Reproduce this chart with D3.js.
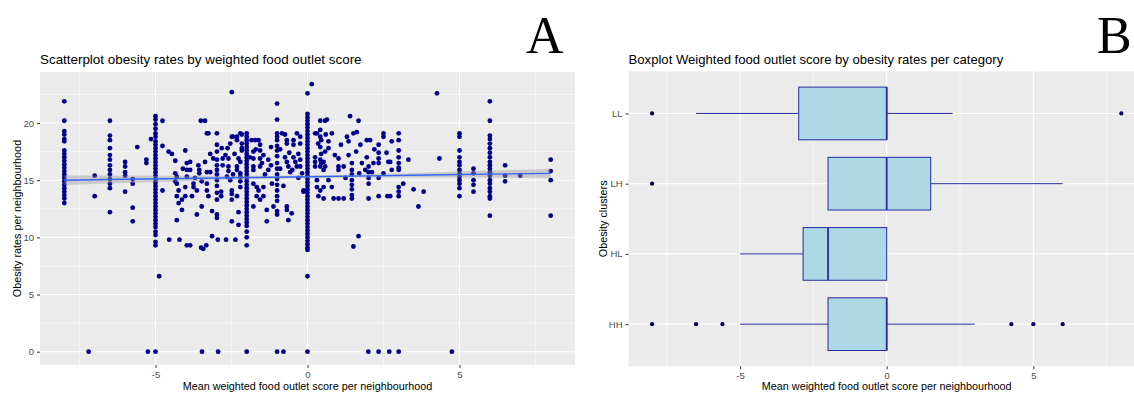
<!DOCTYPE html>
<html>
<head>
<meta charset="utf-8">
<script src="https://cdn.jsdelivr.net/npm/d3@7"></script>
<style>
  body { margin: 0; background: #fff; }
  svg { display: block; font-family: "Liberation Sans", Arial, sans-serif; }
</style>
</head>
<body>
<svg id="chart" width="1134" height="395"></svg>
<script>
// panel A: [weighted food outlet score, obesity rate]
const scatterPoints = [
  [-8,21.9],[-8,20.2],[-8,19.3],[-8,19.0],[-8,18.6],[-8,18.4],[-8,17.6],[-8,17.3],[-8,17.0],[-8,16.7],[-8,16.4],
  [-8,16.1],[-8,15.8],[-8,15.5],[-8,15.2],[-8,14.9],[-8,14.6],[-8,14.3],[-8,14.0],[-8,13.7],[-8,13.4],[-8,13.0],
  [-7.2,0],[-7,15.4],[-7,13.6],
  [-6.5,20.2],[-6.5,18.9],[-6.5,18.5],[-6.5,17.8],[-6.5,17.2],[-6.5,16.8],[-6.5,16.3],[-6.5,15.9],[-6.5,15.5],
  [-6.5,15.1],[-6.5,14.7],[-6.5,14.3],[-6.5,12.2],
  [-6,16.6],[-6,16.2],[-6,15.7],[-6,15.4],[-6,14.0],
  [-5.75,15.1],[-5.75,14.7],[-5.75,12.6],[-5.75,11.4],[-5.6,17.9],[-5.3,16.8],[-5.3,16.5],[-5.25,0],[-5.15,18.6],
  [-5,20.6],[-5,20.3],[-5,19.9],[-5,19.5],[-5,19.1],[-5,18.8],[-5,18.4],[-5,18.1],[-5,17.8],[-5,17.5],[-5,17.2],
  [-5,16.9],[-5,16.6],[-5,16.3],[-5,16.0],[-5,15.7],[-5,15.4],[-5,15.1],[-5,14.8],[-5,14.5],[-5,14.2],[-5,13.9],
  [-5,13.6],[-5,13.3],[-5,13.0],[-5,12.7],[-5,12.4],[-5,12.1],[-5,11.8],[-5,11.5],[-5,11.2],[-5,10.9],[-5,10.5],
  [-5,10.2],[-5,9.6],[-5,9.3],[-5,0],[-4.88,6.6],
  [-4.77,20.2],[-4.77,18.0],[-4.77,14.1],
  [-4.57,17.5],[-4.46,17.3],[-4.35,16.7],[-4.35,15.6],[-4.3,15.3],[-4.35,14.9],[-4.3,14.7],[-4.24,14.1],
  [-4.3,13.6],[-4.24,13.0],[-4.3,11.5],[-4.13,13.3],[-4.13,12.4],[-4.02,17.6],[-3.97,16.5],[-3.97,15.9],
  [-3.97,15.3],[-4.02,14.4],[-4.02,13.6],[-3.86,16.6],[-3.86,15.9],[-3.75,14.7],[-3.75,14.4],[-3.8,13.6],
  [-3.51,20.2],[-3.37,20.2],[-3.59,16.3],[-3.56,15.9],[-3.56,15.6],[-3.48,14.9],[-3.64,14.1],[-3.48,12.7],
  [-3.64,12.0],[-3.31,19.1],[-3.26,19.1],[-3.37,16.6],[-3.31,15.7],[-3.2,15.7],[-3.31,14.7],[-3.31,14.1],
  [-3.26,13.6],[-3.14,12.3],[-3.2,17.3],[-3.1,16.9],[-3.7,15.2],[-4.1,16.0],
  [-2.98,19.1],[-2.98,18.1],[-2.98,17.5],[-2.98,16.8],[-2.98,16.3],[-2.98,15.9],[-2.98,15.5],[-2.98,15.0],
  [-2.98,14.5],[-2.98,13.9],[-2.98,13.3],[-2.98,12.0],[-2.98,11.7],
  [-2.82,17.8],[-2.79,16.9],[-2.79,16.3],[-2.84,14.0],[-2.84,13.6],[-2.63,17.8],[-2.6,16.9],[-2.6,16.2],
  [-2.6,15.8],[-2.54,18.2],[-2.49,18.8],[-2.45,18.8],[-2.49,22.7],[-2.54,15.0],[-2.49,14.1],[-2.49,13.8],
  [-2.49,13.3],[-2.49,11.4],[-2.32,18.8],[-2.32,18.5],[-2.27,16.9],[-2.32,16.2],[-2.32,15.9],[-2.32,13.6],
  [-2.27,12.2],[-2.27,11.1],[-2.21,19.1],[-2.16,19.0],[-2.16,18.2],[-2.16,17.8],[-2.16,17.6],[-2.21,16.6],
  [-2.21,15.6],[-2.21,15.3],[-2.21,14.9],[-2.21,14.4],[-2.7,17.2],[-2.65,15.3],[-2.4,17.3],[-2.45,15.5],
  [-2,19.1],[-2,18.8],[-2,18.5],[-2,18.2],[-2,17.9],[-2,17.6],[-2,17.3],[-2,17.0],[-2,16.7],[-2,16.4],[-2,16.1],
  [-2,15.8],[-2,15.5],[-2,15.2],[-2,14.9],[-2,14.6],[-2,14.3],[-2,14.0],[-2,13.7],[-2,13.4],[-2,13.1],[-2,12.8],
  [-2,12.5],[-2,12.2],[-2,11.9],[-2,11.6],[-2,11.3],[-2,11.0],[-2,10.5],[-2,10.0],[-2,9.3],[-2,0],
  [-1.84,18.5],[-1.72,18.5],[-1.78,17.5],[-1.78,16.9],[-1.78,16.2],[-1.78,15.9],[-1.78,14.7],[-1.67,14.4],
  [-1.61,14.1],[-1.67,13.6],[-1.56,13.3],[-1.45,13.6],[-1.78,12.7],[-1.61,18.5],[-1.56,18.1],[-1.56,17.6],
  [-1.56,16.9],[-1.56,16.2],[-1.45,17.2],[-1.45,14.4],[-1.34,12.4],[-1.34,11.4],[-1.29,16.8],[-1.29,15.9],
  [-1.17,14.7],[-1.12,12.7],[-1.9,17.0],[-1.7,17.7],[-1.5,16.5],[-1.4,15.5],[-1.2,17.9],[-1.2,16.3],
  [-1,21.7],[-1,20.3],[-1,19.1],[-1,18.8],[-1,18.5],[-1,18.0],[-1,17.6],[-1,17.1],[-1,16.5],[-1,16.0],[-1,15.5],
  [-1,15.1],[-1,14.6],[-1,14.1],[-1,13.6],[-1,13.2],[-1,12.3],[-1,12.0],[-1,0],
  [-0.84,19.1],[-0.74,19.0],[-0.68,18.5],[-0.68,18.2],[-0.74,17.0],[-0.68,16.6],[-0.63,16.2],[-0.57,15.7],
  [-0.79,14.5],[-0.68,12.7],[-0.68,12.4],[-0.63,11.5],[-0.79,0],[-0.46,18.5],[-0.46,18.1],[-0.46,17.0],
  [-0.4,16.6],[-0.35,16.2],[-0.52,12.1],[-0.35,19.1],[-0.24,18.8],[-0.24,18.2],[-0.3,17.3],[-0.24,16.8],
  [-0.24,16.2],[-0.18,15.6],[-0.13,14.1],[-0.13,14.0],[-0.9,17.7],[-0.9,16.0],[-0.6,17.4],[-0.5,15.9],[-0.3,15.2],
  [-4.55,9.8],[-4.21,9.8],[-3.97,9.3],[-3.86,9.3],[-3.5,9.1],[-3.43,9.0],[-3.33,9.3],[-3.14,10.1],[-2.95,9.8],
  [-2.68,9.8],[-2.37,9.8],[-3.47,0],[-2.94,0],
  [0.14,23.4],[0,22.6],[0,20.8],[0,20.5],[0,20.2],[0,19.9],[0,19.6],[0,19.3],[0,19.0],[0,18.7],[0,18.4],[0,18.1],
  [0,17.8],[0,17.5],[0,17.2],[0,16.9],[0,16.6],[0,16.3],[0,16.0],[0,15.7],[0,15.4],[0,15.1],[0,14.8],[0,14.5],
  [0,14.2],[0,13.9],[0,13.6],[0,13.3],[0,13.0],[0,12.7],[0,12.4],[0,12.1],[0,11.8],[0,11.5],[0,11.2],[0,10.9],
  [0,10.6],[0,10.3],[0,10.0],[0,9.7],[0,9.4],[0,9.1],[0,8.9],[0,6.6],[0,0],
  [0.25,19.1],[0.31,19.1],[0.42,20.2],[0.58,20.2],[0.42,19.4],[0.42,18.8],[0.45,18.5],[0.42,17.9],[0.45,17.3],
  [0.42,16.8],[0.45,16.5],[0.42,16.2],[0.25,17.0],[0.25,16.6],[0.25,16.2],[0.31,15.0],[0.31,14.4],[0.42,14.1],
  [0.53,14.4],[0.36,13.6],[0.53,13.4],[0.53,16.6],[0.58,16.2],[0.53,15.9],[0.58,17.5],[0.64,20.3],[0.69,18.4],
  [0.69,17.8],[0.69,15.0],[0.8,19.1],[0.8,14.4],[0.86,13.4],[1.02,16.9],[1.02,16.2],[1.02,15.9],[1.02,13.4],
  [1.19,13.4],[1.19,16.2],[1.3,18.8],[1.35,18.4],[1.35,17.2],[1.4,20.6],
  [0.35,18.2],[0.6,19.0],[0.9,17.2],[1.1,18.1],[1.25,15.2],[1.6,17.5],[1.7,15.6],
  [1.46,16.5],[1.46,15.9],[1.46,15.5],[1.46,15.0],[1.46,14.6],[1.46,14.2],[1.46,13.7],[1.46,13.4],
  [1.51,19.1],[1.51,9.2],[1.62,19.2],[1.68,20.2],[1.68,10.1],[1.74,18.1],[1.79,16.5],[1.9,15.9],[1.95,18.5],
  [2.06,18.5],[1.95,17.0],[2.01,16.2],[2.01,15.7],[2.01,15.2],[2.01,14.7],[2.01,13.4],[2.12,15.7],[2.17,16.5],
  [2.34,13.6],[2.34,18.1],[2.34,17.4],[2.34,16.9],[2.34,16.5],[2.34,15.2],[2.5,19.1],[2.5,18.8],[2.66,16.6],
  [2.72,16.6],[2.63,13.6],[2.72,13.6],[2.77,18.4],[2.77,15.9],[2.2,17.7],[2.5,15.6],[2.6,17.4],
  [3,19.1],[3,18.5],[3,17.6],[3,17.0],[3,16.5],[3,16.1],[3,15.9],[3,14.4],[3,14.0],[3,13.6],
  [3.15,14.7],[3.32,16.8],[3.49,14.2],[3.65,12.7],[3.82,14.0],[4.26,22.6],[4.34,16.9],
  [2,0],[2.34,0],[2.69,0],[3,0],[4.75,0],
  [5,19.1],[5,18.8],[5,17.6],[5,17.0],[5,16.6],[5,16.3],[5,15.9],[5,15.6],[5,15.3],[5,15.0],[5,14.7],[5,14.3],[5,13.6],
  [5.46,16.0],[5.46,15.6],[5.46,15.0],[5.46,14.6],[5.46,14.0],
  [6,21.9],[6,20.2],[6,18.9],[6,18.6],[6,18.2],[6,17.8],[6,17.4],[6,17.0],[6,16.6],[6,16.3],[6,16.0],[6,15.7],
  [6,15.4],[6,15.0],[6,14.7],[6,14.3],[6,14.0],[6,13.6],[6,13.4],[6,11.9],
  [6.5,16.3],[6.5,15.4],[6.5,14.9],[7,15.4],
  [8,16.8],[8,15.8],[8,15.0],[8,11.9]
];

// linear smoother with confidence band
const smoothX = [-8, -6, -4, -2, 0, 2, 4, 6, 8];
const smoothFit = [15.0, 15.08, 15.15, 15.23, 15.3, 15.38, 15.45, 15.53, 15.6];
const smoothLow = [14.58, 14.75, 14.91, 15.07, 15.18, 15.24, 15.23, 15.22, 15.2];
const smoothHigh = [15.42, 15.41, 15.39, 15.39, 15.42, 15.52, 15.67, 15.84, 16.0];

const xTicks = [-5, 0, 5];
const xMinor = [-7.5, -2.5, 2.5, 7.5];
const scatterYTicks = [0, 5, 10, 15, 20];
const scatterYMinor = [2.5, 7.5, 12.5, 17.5, 22.5];

// panel B boxplots
const clusters = ["LL", "LH", "HL", "HH"];
const whiskerLow = [-6.5, -2, -5, -5];
const boxQ1 = [-3, -2, -2.85, -2];
const boxMedian = [0, 0, -2, 0];
const boxQ3 = [0, 1.5, 0, 0];
const whiskerHigh = [2.25, 6, 0, 3];
const boxOutliers = [
  ["LL", -8], ["LL", 8], ["LH", -8],
  ["HH", -8], ["HH", -6.5], ["HH", -5.6], ["HH", 4.25], ["HH", 5], ["HH", 6]
];

const svg = d3.select("#chart");
const panelBg = "#ebebeb";
const dotColor = "#00008b";
const boxLine = "#2a2aa2";

function drawAxes(g, x, y, w, h, yTicks, yMinor, yFormat) {
  g.append("rect").attr("width", w).attr("height", h).attr("fill", panelBg);
  const minorY = yMinor.map(y);
  g.selectAll(".gminy").data(minorY).enter().append("line")
    .attr("x1", 0).attr("x2", w).attr("y1", d => d).attr("y2", d => d)
    .attr("stroke", "#fff").attr("stroke-width", 0.5);
  g.selectAll(".gminx").data(xMinor).enter().append("line")
    .attr("x1", d => x(d)).attr("x2", d => x(d)).attr("y1", 0).attr("y2", h)
    .attr("stroke", "#fff").attr("stroke-width", 0.5);
  g.selectAll(".gmajy").data(yTicks).enter().append("line")
    .attr("x1", 0).attr("x2", w).attr("y1", d => y(d)).attr("y2", d => y(d))
    .attr("stroke", "#fff").attr("stroke-width", 1.1);
  g.selectAll(".gmajx").data(xTicks).enter().append("line")
    .attr("x1", d => x(d)).attr("x2", d => x(d)).attr("y1", 0).attr("y2", h)
    .attr("stroke", "#fff").attr("stroke-width", 1.1);

  const ax = g.append("g").attr("transform", `translate(0,${h})`)
    .call(d3.axisBottom(x).tickValues(xTicks).tickSize(3).tickPadding(3).tickFormat(d3.format("d")));
  const ay = g.append("g")
    .call(d3.axisLeft(y).tickValues(yTicks).tickSize(3).tickPadding(3).tickFormat(yFormat));
  [ax, ay].forEach(a => {
    a.select(".domain").remove();
    a.selectAll("line").attr("stroke", "#333");
    a.selectAll("text").attr("fill", "#4d4d4d").style("font-size", "9.5px")
      .style("font-family", "Liberation Sans, Arial, sans-serif");
  });
  ax.selectAll("text").text(d => d < 0 ? "-" + Math.abs(d) : d);
}

// ---------- panel A ----------
const aL = 40, aT = 72, aW = 535, aH = 293;
const xA = d3.scaleLinear().domain([-8.8, 8.8]).range([0, aW]);
const yA = d3.scaleLinear().domain([-1.165, 24.465]).range([aH, 0]);
const gA = svg.append("g").attr("transform", `translate(${aL},${aT})`);
drawAxes(gA, xA, yA, aW, aH, scatterYTicks, scatterYMinor, d3.format("d"));

gA.selectAll(".pt").data(scatterPoints).enter().append("circle")
  .attr("cx", d => xA(d[0])).attr("cy", d => yA(d[1])).attr("r", 2.4)
  .attr("fill", dotColor);

const smoothData = smoothX.map((x, i) => ({ x: x, fit: smoothFit[i], lo: smoothLow[i], hi: smoothHigh[i] }));
gA.append("path").datum(smoothData)
  .attr("d", d3.area().x(d => xA(d.x)).y0(d => yA(d.lo)).y1(d => yA(d.hi)).curve(d3.curveMonotoneX))
  .attr("fill", "#999").attr("fill-opacity", 0.4);
gA.append("path").datum(smoothData)
  .attr("d", d3.line().x(d => xA(d.x)).y(d => yA(d.fit)))
  .attr("fill", "none").attr("stroke", "#3366ff").attr("stroke-width", 1.4);

// ---------- panel B ----------
const bL = 628.6, bT = 71.3, bW = 516.2, bH = 295;
const xB = d3.scaleLinear().domain([-8.8, 8.8]).range([0, bW]);
const yB = d3.scalePoint().domain(clusters.slice().reverse()).range([bH, 0]).padding(0.6);
const gB = svg.append("g").attr("transform", `translate(${bL},${bT})`);
drawAxes(gB, xB, yB, bW, bH, clusters, [], d => d);

const half = yB.step() * 0.375;
const boxes = clusters.map((c, i) => ({
  c: c, lo: whiskerLow[i], q1: boxQ1[i], med: boxMedian[i], q3: boxQ3[i], hi: whiskerHigh[i]
}));
const bx = gB.selectAll(".box").data(boxes).enter().append("g");
bx.append("line").attr("x1", d => xB(d.lo)).attr("x2", d => xB(d.q1))
  .attr("y1", d => yB(d.c)).attr("y2", d => yB(d.c)).attr("stroke", boxLine).attr("stroke-width", 1);
bx.append("line").attr("x1", d => xB(d.q3)).attr("x2", d => xB(d.hi))
  .attr("y1", d => yB(d.c)).attr("y2", d => yB(d.c)).attr("stroke", boxLine).attr("stroke-width", 1);
bx.append("rect").attr("x", d => xB(d.q1)).attr("width", d => xB(d.q3) - xB(d.q1))
  .attr("y", d => yB(d.c) - half).attr("height", half * 2)
  .attr("fill", "#add8e6").attr("stroke", boxLine).attr("stroke-width", 1);
bx.append("line").attr("x1", d => xB(d.med)).attr("x2", d => xB(d.med))
  .attr("y1", d => yB(d.c) - half).attr("y2", d => yB(d.c) + half)
  .attr("stroke", boxLine).attr("stroke-width", 1.8);

gB.selectAll(".out").data(boxOutliers).enter().append("circle")
  .attr("cx", d => xB(d[1])).attr("cy", d => yB(d[0])).attr("r", 2.1)
  .attr("fill", "#000066");

// ---------- titles ----------
const textStyle = sel => sel.attr("fill", "#000").style("font-family", "Liberation Sans, Arial, sans-serif");
svg.append("text").attr("x", aL).attr("y", 64).text("Scatterplot obesity rates by weighted food outlet score")
  .style("font-size", "13.4px").call(textStyle);
svg.append("text").attr("x", bL).attr("y", 64).text("Boxplot Weighted food outlet score by obesity rates per category")
  .style("font-size", "13.1px").call(textStyle);

svg.append("text").attr("x", aL + aW / 2).attr("y", 390).attr("text-anchor", "middle")
  .text("Mean weighted food outlet score per neighbourhood").style("font-size", "10.8px").call(textStyle);
svg.append("text").attr("x", bL + bW / 2).attr("y", 390).attr("text-anchor", "middle")
  .text("Mean weighted food outlet score per neighbourhood").style("font-size", "10.8px").call(textStyle);

svg.append("text").attr("transform", `translate(21,${aT + aH / 2}) rotate(-90)`).attr("text-anchor", "middle")
  .text("Obesity rates per neighbourhood").style("font-size", "10.8px").call(textStyle);
svg.append("text").attr("transform", `translate(606.5,${bT + bH / 2}) rotate(-90)`).attr("text-anchor", "middle")
  .text("Obesity clusters").style("font-size", "10.8px").call(textStyle);

svg.append("text").attr("x", 526).attr("y", 53).text("A")
  .style("font-family", "Liberation Serif, Times New Roman, serif").style("font-size", "52px");
svg.append("text").attr("x", 1097).attr("y", 53).text("B")
  .style("font-family", "Liberation Serif, Times New Roman, serif").style("font-size", "52px");
</script>
</body>
</html>
